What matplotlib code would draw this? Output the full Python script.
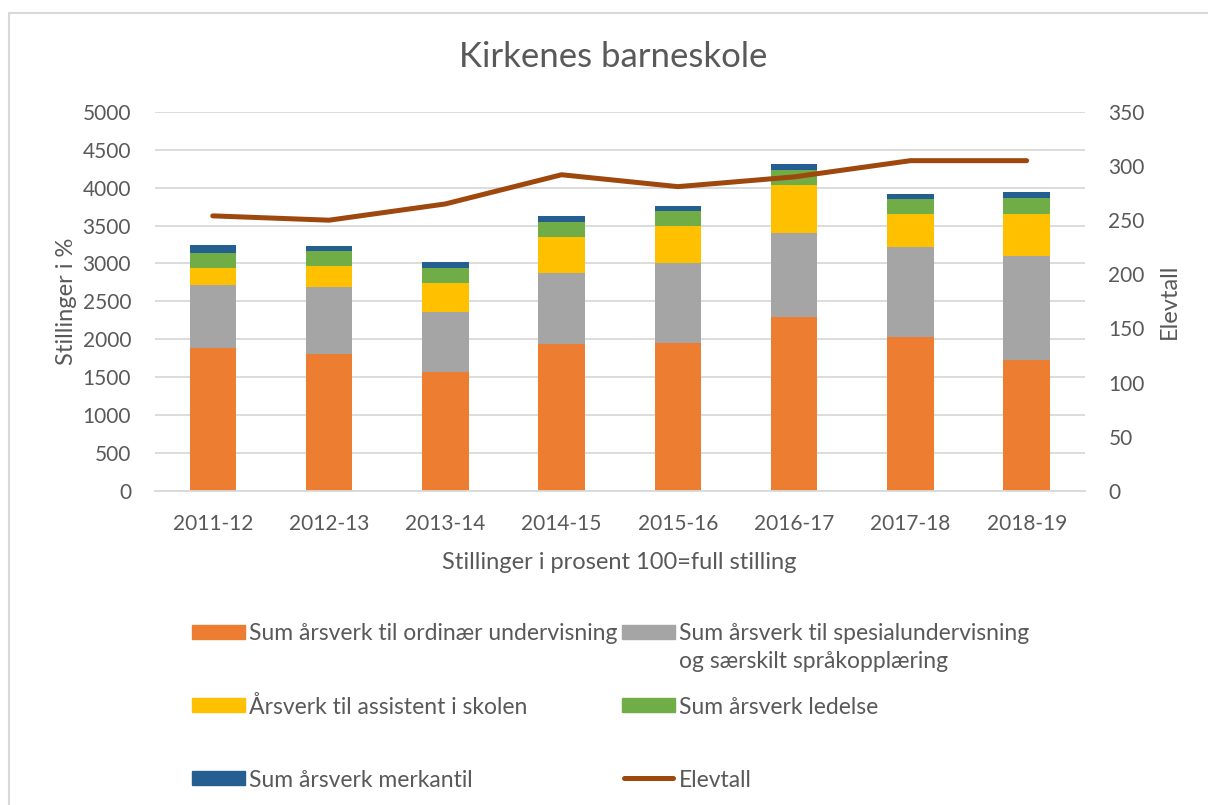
# %%
# libraries
import matplotlib.pyplot as plt
from matplotlib.patches import Rectangle
from matplotlib.lines import Line2D

plt.rcParams['font.family'] = ['Lato', 'DejaVu Sans']

# %%
# data
years = ['2011-12', '2012-13', '2013-14', '2014-15', '2015-16', '2016-17', '2017-18', '2018-19']
ordinaer = [1884, 1799, 1561, 1932, 1945, 2294, 2024, 1720]
spesial = [828, 887, 803, 939, 1067, 1102, 1191, 1376]
assistent = [230, 278, 384, 481, 477, 639, 432, 560]
ledelse = [199, 203, 198, 199, 198, 199, 203, 212]
merkantil = [106, 70, 76, 74, 76, 75, 72, 74]
elevtall = [254, 250, 265, 292, 281, 290, 305, 305]

labels = ['Sum årsverk til ordinær undervisning',
          'Sum årsverk til spesialundervisning\nog særskilt språkopplæring',
          'Årsverk til assistent i skolen',
          'Sum årsverk ledelse',
          'Sum årsverk merkantil',
          'Elevtall']
colors = ['#ED7D31', '#A5A5A5', '#FFC000', '#70AD47', '#255E91']
line_color = '#9E480E'
txt = '#595959'

# %%
# plot
fig = plt.figure(figsize=(12.08, 8.05), dpi=100)
ax = fig.add_axes([0.128, 0.3904, 0.77, 0.4705])
ax2 = ax.twinx()

x = range(len(years))
bottom = [0] * len(years)
for vals, col in zip([ordinaer, spesial, assistent, ledelse, merkantil], colors):
    ax.bar(x, vals, width=0.4, bottom=bottom, color=col, zorder=2)
    bottom = [b + v for b, v in zip(bottom, vals)]

ax2.plot(x, elevtall, color=line_color, lw=3.6, solid_capstyle='round',
         solid_joinstyle='round')

ax.set_xlim(-0.5, len(years) - 0.5)
ax.set_ylim(0, 5000)
ax2.set_ylim(0, 350)
ax.set_yticks(range(0, 5001, 500))
ax2.set_yticks(range(0, 351, 50))
ax.set_xticks(list(x))
ax.set_xticklabels(years)
ax.yaxis.grid(True, color='#d9d9d9', lw=1.3, zorder=0)
ax.set_axisbelow(True)
for a in (ax, ax2):
    for s in a.spines.values():
        s.set_visible(False)
    a.tick_params(length=0, labelsize=15, colors=txt)
ax.tick_params(axis='y', pad=17)
ax2.tick_params(axis='y', pad=17)
ax.tick_params(axis='x', pad=17)
ax.spines['bottom'].set_visible(True)
ax.spines['bottom'].set_color('#d9d9d9')
ax.spines['bottom'].set_linewidth(1.3)

ax.set_ylabel('Stillinger i %', fontsize=17, color=txt, labelpad=4)
ax2.set_ylabel('Elevtall', fontsize=17, color=txt, labelpad=10)
ax.set_xlabel('Stillinger i prosent 100=full stilling', fontsize=17, color=txt, labelpad=13)
fig.text(0.508, 0.929, 'Kirkenes barneskole', ha='center', va='center',
         fontsize=25, color=txt)

# legend drawn by hand to match the Excel layout
leg_pos = [(192, 632), (622, 632), (192, 705), (622, 705), (192, 778), (622, 778)]
W, H = 1208, 805
for i, (px, py) in enumerate(leg_pos):
    fx, fy = px / W, 1 - py / H
    if i < 5:
        fig.patches.append(Rectangle((fx, fy - 7 / H), 53 / W, 14 / H,
                                     transform=fig.transFigure, color=colors[i]))
    else:
        fig.lines.append(Line2D([fx + 2 / W, fx + 51 / W], [fy, fy], transform=fig.transFigure,
                                color=line_color, lw=3.6, solid_capstyle='round'))
    for k, line in enumerate(labels[i].split('\n')):
        fig.text(fx + 57 / W, fy - k * 28 / H, line, ha='left', va='center_baseline',
                 fontsize=16.5, color=txt)

# chart border
fig.patches.append(Rectangle((9 / W, -0.05), 1.1, 1 - 13 / H + 0.05, transform=fig.transFigure,
                             fill=False, edgecolor='#d9d9d9', lw=1.5))

fig.savefig('out.png', dpi=100)
